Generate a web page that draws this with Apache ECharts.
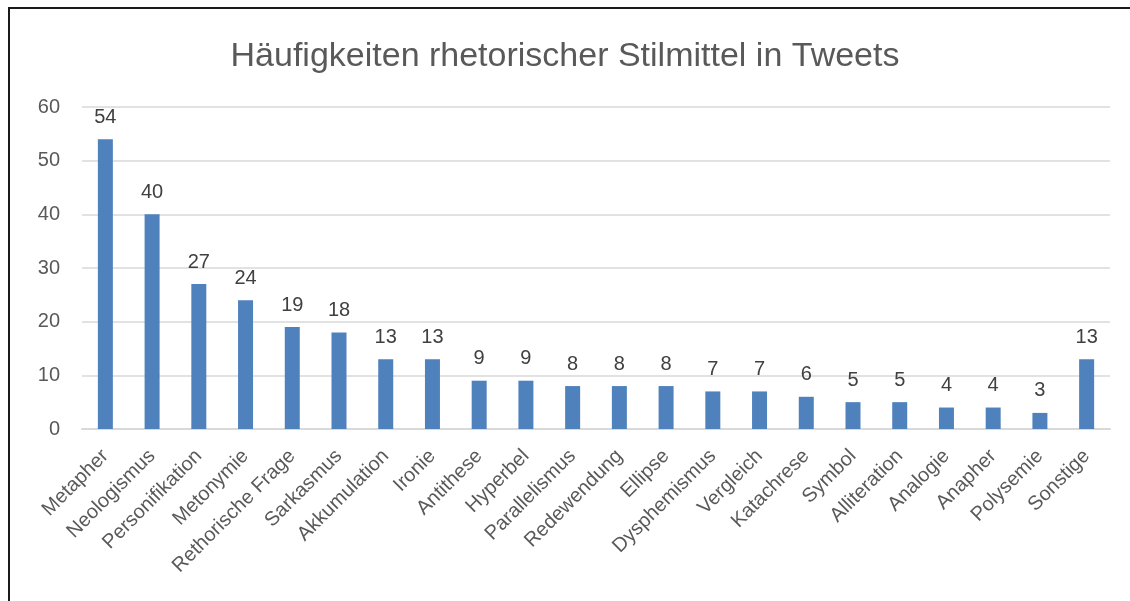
<!DOCTYPE html>
<html>
<head>
<meta charset="utf-8">
<script src="https://cdn.jsdelivr.net/npm/echarts@6/dist/echarts.min.js"></script>
<style>
  html, body { margin: 0; padding: 0; background: #fff; }
  #chart { width: 1130px; height: 601px; }
</style>
</head>
<body>
<div id="chart"></div>
<script>
const categories = [
  "Metapher", "Neologismus", "Personifikation", "Metonymie", "Rethorische Frage",
  "Sarkasmus", "Akkumulation", "Ironie", "Antithese", "Hyperbel", "Parallelismus",
  "Redewendung", "Ellipse", "Dysphemismus", "Vergleich", "Katachrese", "Symbol",
  "Alliteration", "Analogie", "Anapher", "Polysemie", "Sonstige"
];
const counts = [54, 40, 27, 24, 19, 18, 13, 13, 9, 9, 8, 8, 8, 7, 7, 6, 5, 5, 4, 4, 3, 13];
const yTicks = { min: 0, max: 60, interval: 10 };

const font = "'Liberation Sans', 'DejaVu Sans', sans-serif";
const chart = echarts.init(document.getElementById("chart"));

const option = {
  animation: false,
  textStyle: { fontFamily: font },
  title: {
    text: "Häufigkeiten rhetorischer Stilmittel in Tweets",
    left: "center",
    top: 35,
    textStyle: { fontFamily: font, fontSize: 34, fontWeight: "normal", color: "#595959" }
  },
  graphic: [{
    type: "rect",
    shape: { x: 9, y: 8, width: 1200, height: 700 },
    style: { fill: "none", stroke: "#1a1a1a", lineWidth: 2 },
    silent: true
  }],
  grid: { left: 82, right: 20, top: 107, bottom: 172 },
  xAxis: {
    type: "category",
    data: categories,
    axisLine: { lineStyle: { color: "#d9d9d9", width: 2 } },
    axisTick: { show: false },
    axisLabel: {
      rotate: 45,
      interval: 0,
      margin: 24,
      fontFamily: font,
      fontSize: 20,
      color: "#595959"
    }
  },
  yAxis: {
    type: "value",
    min: yTicks.min,
    max: yTicks.max,
    interval: yTicks.interval,
    axisLine: { show: false },
    axisTick: { show: false },
    splitLine: { lineStyle: { color: "#d9d9d9", width: 1.5 } },
    axisLabel: { fontFamily: font, fontSize: 20, color: "#595959", margin: 22 }
  },
  series: [{
    type: "bar",
    data: counts,
    barWidth: 15,
    itemStyle: { color: "#4f81bd" },
    label: {
      show: true,
      position: "top",
      distance: 12,
      fontFamily: font,
      fontSize: 20,
      color: "#404040"
    }
  }]
};

chart.setOption(option);
</script>
</body>
</html>
